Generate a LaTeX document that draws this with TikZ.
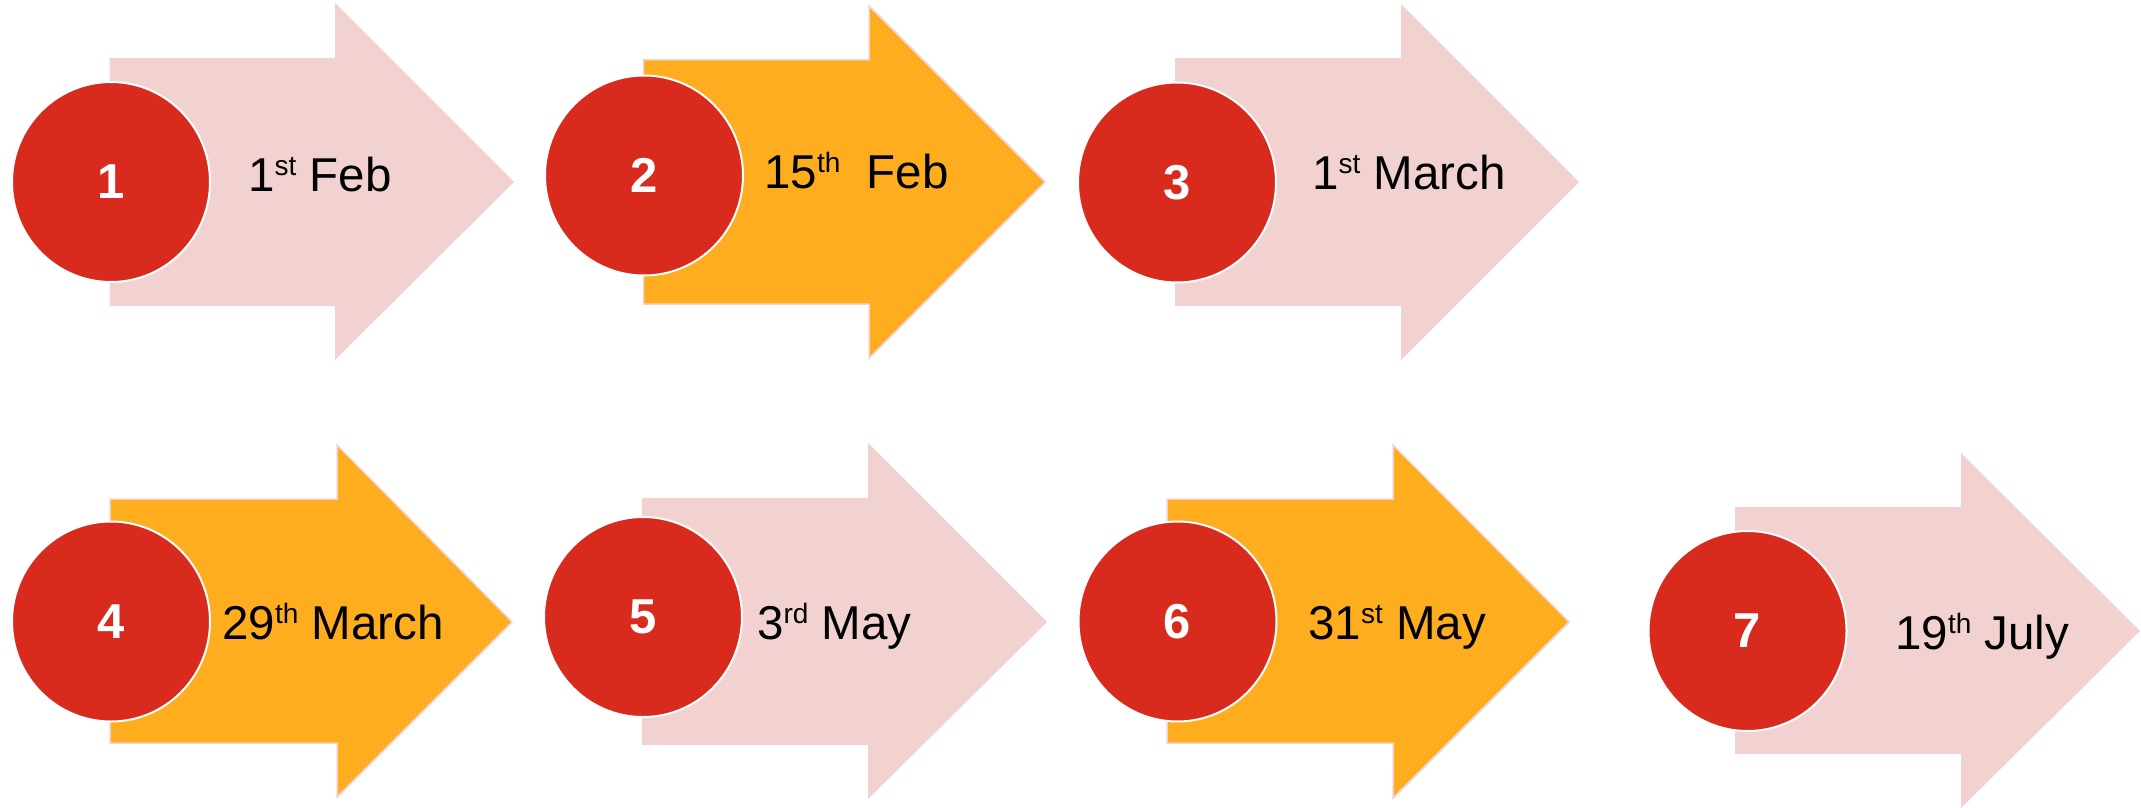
\documentclass[tikz,border=0pt]{standalone}
\usepackage{fontspec}
\setmainfont{Liberation Sans}
\usetikzlibrary{shapes.geometric}
\definecolor{pinkfill}{HTML}{F2D2D1}
\definecolor{orangefill}{HTML}{FDAD1D}
\definecolor{redfill}{HTML}{D92A1E}
\newcommand\tlarr[9]{%
  \fill[#1] (#2,#3) -- (#5,#3) -- (#5,#6) -- (#8,#9) -- (#5,#7) -- (#5,#4) -- (#2,#4) -- cycle;}
\newcommand\sups[1]{\raisebox{15.5pt}{\fontsize{28}{28}\selectfont #1}}
\tikzset{
  pinkarr/.style={fill=pinkfill},
  orangearr/.style={fill=orangefill, draw=pinkfill, line width=1.5pt, line join=miter},
  numdisc/.style={ellipse, fill=redfill, draw=white, line width=2pt, minimum width=198pt, minimum height=200pt, inner sep=0pt, text=white, font=\fontsize{49}{49}\selectfont\bfseries},
  datelbl/.style={anchor=base west, inner sep=0pt, font=\fontsize{47.5}{50}\selectfont, text=black}
}
\begin{document}
\begin{tikzpicture}[x=1pt,y=-1pt]
\useasboundingbox (0,0) rectangle (2141,808);
% arrows
\tlarr{pinkarr}{109.5}{58}{306}{335}{3}{360}{514}{182}
\tlarr{orangearr}{643.5}{60}{304}{869}{6}{358}{1045}{182}
\tlarr{pinkarr}{1175}{58}{306}{1401}{4}{360}{1579}{182}
\tlarr{orangearr}{110}{499}{743}{337}{445}{797}{512}{622}
\tlarr{pinkarr}{642}{498}{745}{868}{443}{799}{1047}{622}
\tlarr{orangearr}{1167}{499}{743}{1393}{445}{798}{1569}{622}
\tlarr{pinkarr}{1735}{507}{754}{1961}{453}{808}{2140}{631}
% discs
\node[numdisc] (c1) at (111,182) {1};
\node[numdisc] (c2) at (644,175.5) {2};
\node[numdisc] (c3) at (1177,182.5) {3};
\node[numdisc] (c4) at (111,621.5) {4};
\node[numdisc] (c5) at (643,617) {5};
\node[numdisc] (c6) at (1177.5,621.5) {6};
\node[numdisc] (c7) at (1747.5,631) {7};
% labels
\node[datelbl] (t1) at (248,191) {1\sups{st} Feb};
\node[datelbl] (t2) at (764,188) {15\sups{th}~~Feb};
\node[datelbl] (t3) at (1312,189) {1\sups{st} March};
\node[datelbl] (t4) at (222,639) {29\sups{th} March};
\node[datelbl] (t5) at (757,639) {3\sups{rd} May};
\node[datelbl] (t6) at (1308,639) {31\sups{st} May};
\node[datelbl] (t7) at (1895,649) {19\sups{th} July};
\end{tikzpicture}
\end{document}
